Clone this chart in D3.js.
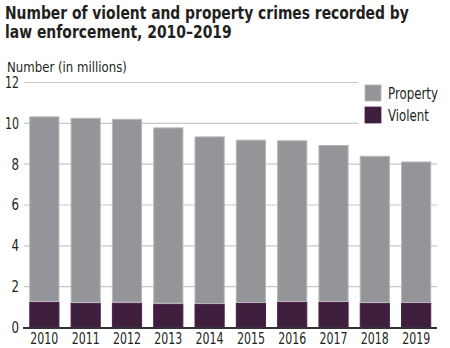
<!DOCTYPE html>
<html>
<head>
<meta charset="utf-8">
<script src="https://cdn.jsdelivr.net/npm/d3@7"></script>
<style>
  html, body { margin: 0; padding: 0; background: #fff; }
  svg { display: block; }
  text { font-family: "DejaVu Sans Condensed", "Liberation Sans", sans-serif; fill: #231f20; }
</style>
</head>
<body>
<svg id="chart" width="450" height="348"></svg>
<script>
const years = ["2010","2011","2012","2013","2014","2015","2016","2017","2018","2019"];
const violent = [1.25, 1.21, 1.22, 1.17, 1.15, 1.20, 1.25, 1.25, 1.21, 1.20];
const property = [9.09, 9.06, 9.00, 8.63, 8.21, 8.00, 7.92, 7.69, 7.20, 6.93];
const yTicks = [0, 2, 4, 6, 8, 10, 12];
const seriesNames = ["Property", "Violent"];
const colors = { Property: "#939598", Violent: "#3e1f3d" };
const strokes = { Property: "#b5b6b8", Violent: "#4f1f4b" };

const svg = d3.select("#chart");
const x = d3.scaleBand().domain(years).range([23.5, 437]).paddingInner(0.27).paddingOuter(0.14);
const y = d3.scaleLinear().domain([0, 12]).range([327.5, 82.5]);

function fit(sel, w) {
  sel.attr("textLength", w).attr("lengthAdjust", "spacingAndGlyphs");
}
// horizontally squeeze a text (anchored at its x) to a target width via transform
function squeeze(sel, w) {
  sel.each(function() {
    const t = d3.select(this);
    const nat = this.getComputedTextLength();
    const x0 = +t.attr("x"), y0 = +t.attr("y");
    const k = w / nat;
    t.attr("x", 0).attr("y", 0).attr("transform", `translate(${x0},${y0}) scale(${k},1)`);
  });
}

// Title
svg.append("text").attr("x", 5).attr("y", 19).attr("font-size", 17.5).attr("font-weight", "bold")
  .text("Number of violent and property crimes recorded by").call(squeeze, 404);
svg.append("text").attr("x", 5).attr("y", 38).attr("font-size", 17.5).attr("font-weight", "bold")
  .text("law enforcement, 2010\u20132019").call(squeeze, 227);
svg.append("text").attr("x", 7).attr("y", 72).attr("font-size", 14.5).text("Number (in millions)").call(squeeze, 120);

// Gridlines
const grid = svg.append("g");
yTicks.filter(d => d > 0).forEach(d => {
  const x2 = d >= 10 ? 358 : 437;
  grid.append("line").attr("x1", 24).attr("x2", x2).attr("y1", y(d)).attr("y2", y(d))
    .attr("stroke", "#c8c8ca").attr("stroke-width", 1.2);
});

// Y tick labels
const yAxis = d3.axisLeft(y).tickValues(yTicks).tickSize(0).tickPadding(0);
const ya = svg.append("g").attr("transform", "translate(19,0)").call(yAxis);
ya.select(".domain").remove();
ya.selectAll("text").attr("font-size", 15.5).attr("fill", "#231f20")
  .style("font-family", "'DejaVu Sans Condensed', sans-serif")
  .each(function(d) { d3.select(this).call(fit, d >= 10 ? 14 : 7.5); });

// Stacked bars
const table = years.map((yr, i) => ({ year: yr, Violent: violent[i], Property: property[i] }));
const stack = d3.stack().keys(["Violent", "Property"])(table);
svg.append("g").selectAll("g").data(stack).join("g")
  .attr("fill", d => colors[d.key]).attr("stroke", d => strokes[d.key]).attr("stroke-width", 1)
  .selectAll("rect").data(d => d).join("rect")
  .attr("x", d => x(d.data.year) + 0.5)
  .attr("width", x.bandwidth() - 1)
  .attr("y", d => y(d[1]) + 0.5)
  .attr("height", d => Math.max(0, y(d[0]) - y(d[1]) - 1));

// X axis
const xAxis = d3.axisBottom(x).tickSize(0).tickPadding(5);
const xa = svg.append("g").attr("transform", "translate(0,328)").call(xAxis);
xa.select(".domain").attr("stroke", "#333").attr("stroke-width", 2.2).attr("d", "M23,0H437");
xa.selectAll("text").attr("font-size", 15.5).attr("fill", "#231f20")
  .style("font-family", "'DejaVu Sans Condensed', sans-serif")
  .call(fit, 28);

// Legend
const legend = svg.append("g");
const legendW = { Property: 50, Violent: 41 };
seriesNames.forEach((name, i) => {
  const yy = 85 + i * 22;
  legend.append("rect").attr("x", 365).attr("y", yy).attr("width", 16).attr("height", 16)
    .attr("fill", colors[name]).attr("stroke", strokes[name]).attr("stroke-width", 0.8);
  legend.append("text").attr("x", 388).attr("y", yy + 14).attr("font-size", 15.5).text(name).call(fit, legendW[name]);
});
</script>
</body>
</html>
